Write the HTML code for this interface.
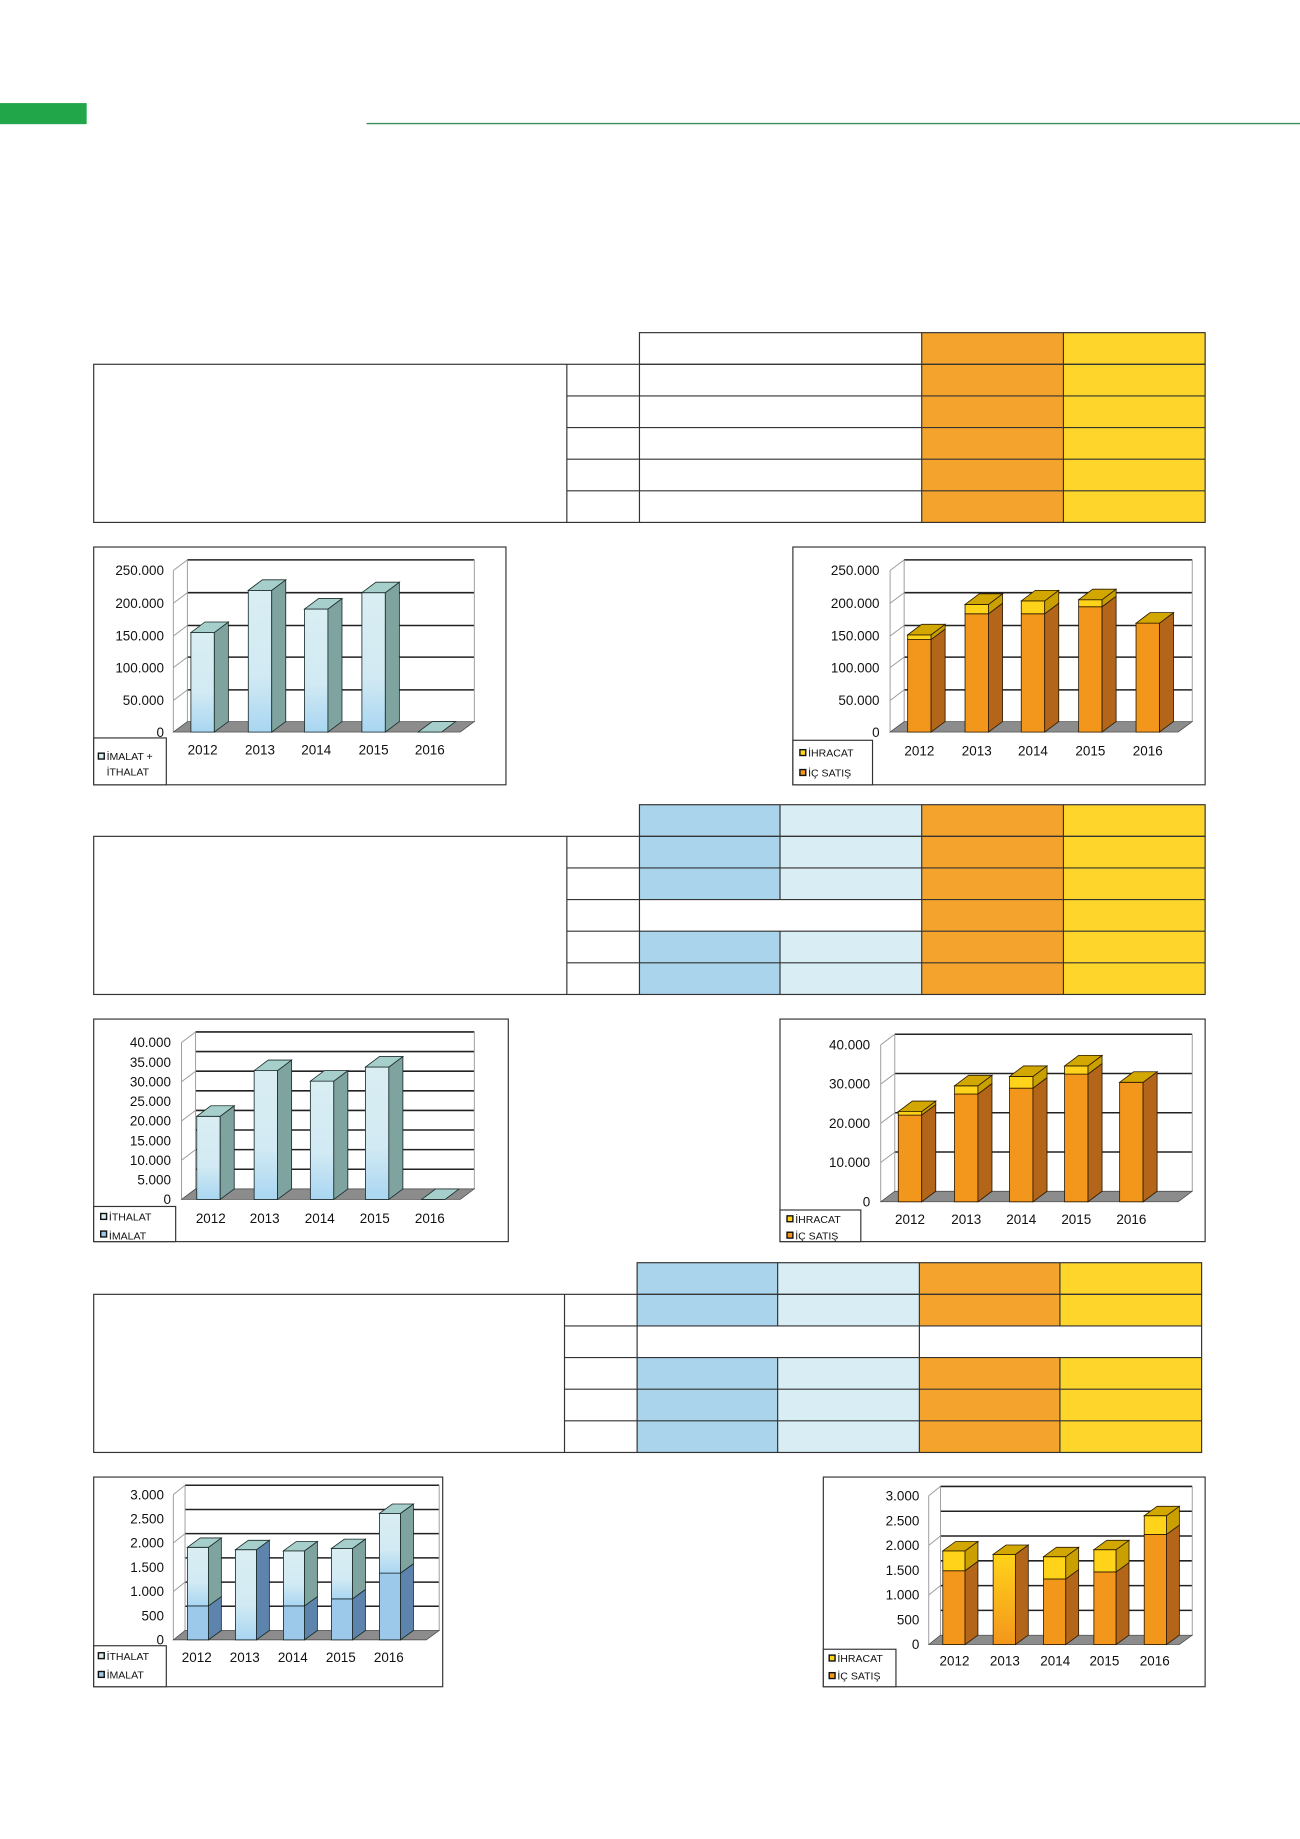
<!DOCTYPE html>
<html><head><meta charset="utf-8"><style>
html,body{margin:0;padding:0;background:#fff;width:1300px;height:1839px;overflow:hidden}
svg{display:block}
text{font-family:"Liberation Sans",Arial,sans-serif;fill:#111}
.ax{font-size:11.5px;text-anchor:end}
.yr{font-size:11.5px;text-anchor:middle}
.lg{font-size:9px}
.ln{stroke:#333;stroke-width:1;fill:none}
.gr{stroke:#222;stroke-width:1.3;fill:none}
.th{stroke:#999;stroke-width:.8;fill:none}
.fl{fill:#8c8c8c;stroke:#444;stroke-width:.6}
.o{fill:#f3961c;stroke:#2a1a00;stroke-width:.7}
.os{fill:#b3651a;stroke:#2a1a00;stroke-width:.7}
.y{fill:#ffd319;stroke:#2a1a00;stroke-width:.7}
.ys{fill:#c9a000;stroke:#2a1a00;stroke-width:.7}
.yt{fill:#d2a700;stroke:#2a1a00;stroke-width:.7}
.l{fill:url(#lg);stroke:#1a2a2a;stroke-width:.7}
.ls{fill:#7fa39f;stroke:#1a2a2a;stroke-width:.7}
.lt{fill:#a6cfcb;stroke:#1a2a2a;stroke-width:.7}
.b{fill:#9cc8ea;stroke:#1a2a2a;stroke-width:.7}
.bs{fill:#5d84ad;stroke:#1a2a2a;stroke-width:.7}
.box{fill:#fff;stroke:#333;stroke-width:1}
</style></head><body>
<svg width="1300" height="1839" viewBox="0 0 1110 1570" preserveAspectRatio="none" xmlns="http://www.w3.org/2000/svg">
<defs>
<linearGradient id="lg" x1="0" y1="0" x2="0" y2="1"><stop offset="0" stop-color="#d9eef3"/><stop offset=".6" stop-color="#d2eaf3"/><stop offset="1" stop-color="#a9d6f2"/></linearGradient>
<linearGradient id="yo" x1="0" y1="0" x2="0" y2="1"><stop offset="0" stop-color="#ffd319"/><stop offset="1" stop-color="#f3961c"/></linearGradient>
</defs>
<rect x="0" y="88" width="74" height="18" fill="#21a64a"/>
<line x1="313" y1="105.5" x2="1110" y2="105.5" stroke="#3a8f5a" stroke-width="1.2"/>

<!-- TABLE 1 -->
<rect x="787" y="284" width="121" height="162" fill="#f4a42c"/>
<rect x="908" y="284" width="121" height="162" fill="#fed52a"/>
<rect x="546" y="284" width="483" height="27" class="ln"/>
<line x1="787" y1="284" x2="787" y2="446" class="ln"/><line x1="908" y1="284" x2="908" y2="446" class="ln"/>
<rect x="80" y="311" width="949" height="135" class="ln"/>
<line x1="484" y1="311" x2="484" y2="446" class="ln"/><line x1="546" y1="311" x2="546" y2="446" class="ln"/>
<path class="ln" d="M484 338H1029M484 365H1029M484 392H1029M484 419H1029"/>

<!-- TABLE 2 -->
<rect x="546" y="687" width="120" height="162" fill="#aad3ec"/>
<rect x="666" y="687" width="121" height="162" fill="#d8edf4"/>
<rect x="546" y="768" width="241" height="27" fill="#fff"/>
<rect x="787" y="687" width="121" height="162" fill="#f4a42c"/>
<rect x="908" y="687" width="121" height="162" fill="#fed52a"/>
<rect x="546" y="687" width="483" height="27" class="ln"/>
<path class="ln" d="M666 687V768M666 795V849M787 687V849M908 687V849"/>
<rect x="80" y="714" width="949" height="135" class="ln"/>
<path class="ln" d="M484 714V849M546 714V849M484 741H1029M484 768H1029M484 795H1029M484 822H1029"/>

<!-- TABLE 3 -->
<rect x="544" y="1078" width="120" height="162" fill="#aad3ec"/>
<rect x="664" y="1078" width="121" height="162" fill="#d8edf4"/>
<rect x="785" y="1078" width="120" height="162" fill="#f4a42c"/>
<rect x="905" y="1078" width="121" height="162" fill="#fed52a"/>
<rect x="544" y="1132" width="482" height="27" fill="#fff"/>
<rect x="544" y="1078" width="482" height="27" class="ln"/>
<path class="ln" d="M664 1078V1132M664 1159V1240M785 1078V1240M905 1078V1132M905 1159V1240"/>
<rect x="80" y="1105" width="946" height="135" class="ln"/>
<path class="ln" d="M482 1105V1240M544 1105V1240M482 1132H1026M482 1159H1026M482 1186H1026M482 1213H1026"/>

<!-- CHART 1 LEFT -->
<rect x="80" y="467" width="352" height="203" class="box"/>
<path class="gr" d="M160 478H405M160 506H405M160 534H405M160 561H405M160 589H405"/>
<path class="th" d="M148 487V625M160 478V616M405 478V616M148 487L160 478M148 515L160 506M148 543L160 534M148 570L160 561M148 598L160 589"/>
<polygon class="fl" points="148,625 393,625 405,616 160,616"/>
<rect class="l" x="163" y="540" width="20" height="85"/><polygon class="ls" points="183,540 195,531 195,616 183,625"/><polygon class="lt" points="163,540 175,531 195,531 183,540"/>
<rect class="l" x="212" y="504" width="20" height="121"/><polygon class="ls" points="232,504 244,495 244,616 232,625"/><polygon class="lt" points="212,504 224,495 244,495 232,504"/>
<rect class="l" x="260" y="520" width="20" height="105"/><polygon class="ls" points="280,520 292,511 292,616 280,625"/><polygon class="lt" points="260,520 272,511 292,511 280,520"/>
<rect class="l" x="309" y="506" width="20" height="119"/><polygon class="ls" points="329,506 341,497 341,616 329,625"/><polygon class="lt" points="309,506 321,497 341,497 329,506"/>
<polygon class="lt" points="357,625 369,616 389,616 377,625"/>
<text class="ax" x="140" y="491">250.000</text><text class="ax" x="140" y="519">200.000</text><text class="ax" x="140" y="547">150.000</text><text class="ax" x="140" y="574">100.000</text><text class="ax" x="140" y="602">50.000</text><text class="ax" x="140" y="629">0</text>
<text class="yr" x="173" y="644">2012</text><text class="yr" x="222" y="644">2013</text><text class="yr" x="270" y="644">2014</text><text class="yr" x="319" y="644">2015</text><text class="yr" x="367" y="644">2016</text>
<rect x="80" y="630" width="62" height="40" class="box"/>
<rect x="84" y="643" width="5" height="5" fill="#d9eef3" stroke="#111" stroke-width="1.2"/>
<text class="lg" x="91" y="649">İMALAT +</text><text class="lg" x="91" y="662">İTHALAT</text>

<!-- CHART 1 RIGHT -->
<rect x="677" y="467" width="352" height="203" class="box"/>
<path class="gr" d="M772 478H1018M772 506H1018M772 534H1018M772 561H1018M772 589H1018"/>
<path class="th" d="M760 487V625M772 478V616M1018 478V616M760 487L772 478M760 515L772 506M760 543L772 534M760 570L772 561M760 598L772 589"/>
<polygon class="fl" points="760,625 1006,625 1018,616 772,616"/>
<rect class="o" x="775" y="546" width="20" height="79"/><polygon class="os" points="795,546 807,537 807,616 795,625"/><rect class="y" x="775" y="542" width="20" height="4"/><polygon class="ys" points="795,542 807,533 807,537 795,546"/><polygon class="yt" points="775,542 787,533 807,533 795,542"/>
<rect class="o" x="824" y="524" width="20" height="101"/><polygon class="os" points="844,524 856,515 856,616 844,625"/><rect class="y" x="824" y="516" width="20" height="8"/><polygon class="ys" points="844,516 856,507 856,515 844,524"/><polygon class="yt" points="824,516 836,507 856,507 844,516"/>
<rect class="o" x="872" y="524" width="20" height="101"/><polygon class="os" points="892,524 904,515 904,616 892,625"/><rect class="y" x="872" y="513" width="20" height="11"/><polygon class="ys" points="892,513 904,504 904,515 892,524"/><polygon class="yt" points="872,513 884,504 904,504 892,513"/>
<rect class="o" x="921" y="518" width="20" height="107"/><polygon class="os" points="941,518 953,509 953,616 941,625"/><rect class="y" x="921" y="512" width="20" height="6"/><polygon class="ys" points="941,512 953,503 953,509 941,518"/><polygon class="yt" points="921,512 933,503 953,503 941,512"/>
<rect class="o" x="970" y="532" width="20" height="93"/><polygon class="os" points="990,532 1002,523 1002,616 990,625"/><polygon class="yt" points="970,532 982,523 1002,523 990,532"/>
<text class="ax" x="751" y="491">250.000</text><text class="ax" x="751" y="519">200.000</text><text class="ax" x="751" y="547">150.000</text><text class="ax" x="751" y="574">100.000</text><text class="ax" x="751" y="602">50.000</text><text class="ax" x="751" y="629">0</text>
<text class="yr" x="785" y="645">2012</text><text class="yr" x="834" y="645">2013</text><text class="yr" x="882" y="645">2014</text><text class="yr" x="931" y="645">2015</text><text class="yr" x="980" y="645">2016</text>
<rect x="677" y="632" width="68" height="38" class="box"/>
<rect x="683" y="640" width="5" height="5" fill="#ffd319" stroke="#111" stroke-width="1.2"/><text class="lg" x="690" y="646">İHRACAT</text>
<rect x="683" y="657" width="5" height="5" fill="#f3961c" stroke="#111" stroke-width="1.2"/><text class="lg" x="690" y="663">İÇ SATIŞ</text>

<!-- CHART 2 LEFT -->
<rect x="80" y="870" width="354" height="190" class="box"/>
<path class="gr" d="M167 881H405M167 897.75H405M167 914.5H405M167 931.25H405M167 948H405M167 964.75H405M167 981.5H405M167 998.25H405"/>
<path class="th" d="M155 890V1024M167 881V1015M405 881V1015M155 890L167 881M155 923.5L167 914.5M155 957L167 948M155 990.5L167 981.5"/>
<polygon class="fl" points="155,1024 393,1024 405,1015 167,1015"/>
<rect class="l" x="168" y="953" width="20" height="71"/><polygon class="ls" points="188,953 200,944 200,1015 188,1024"/><polygon class="lt" points="168,953 180,944 200,944 188,953"/>
<rect class="l" x="217" y="914" width="20" height="110"/><polygon class="ls" points="237,914 249,905 249,1015 237,1024"/><polygon class="lt" points="217,914 229,905 249,905 237,914"/>
<rect class="l" x="265" y="923" width="20" height="101"/><polygon class="ls" points="285,923 297,914 297,1015 285,1024"/><polygon class="lt" points="265,923 277,914 297,914 285,923"/>
<rect class="l" x="312" y="911" width="20" height="113"/><polygon class="ls" points="332,911 344,902 344,1015 332,1024"/><polygon class="lt" points="312,911 324,902 344,902 332,911"/>
<polygon class="lt" points="360,1024 372,1015 392,1015 380,1024"/>
<text class="ax" x="146" y="894">40.000</text><text class="ax" x="146" y="910.75">35.000</text><text class="ax" x="146" y="927.5">30.000</text><text class="ax" x="146" y="944.25">25.000</text><text class="ax" x="146" y="961">20.000</text><text class="ax" x="146" y="977.75">15.000</text><text class="ax" x="146" y="994.5">10.000</text><text class="ax" x="146" y="1011.25">5.000</text><text class="ax" x="146" y="1028">0</text>
<text class="yr" x="180" y="1044">2012</text><text class="yr" x="226" y="1044">2013</text><text class="yr" x="273" y="1044">2014</text><text class="yr" x="320" y="1044">2015</text><text class="yr" x="367" y="1044">2016</text>
<rect x="80" y="1030" width="70" height="30" class="box"/>
<rect x="86" y="1036" width="5" height="5" fill="#d9eef3" stroke="#111" stroke-width="1.2"/><text class="lg" x="93" y="1042">İTHALAT</text>
<rect x="86" y="1051" width="5" height="5" fill="#9cc8ea" stroke="#111" stroke-width="1.2"/><text class="lg" x="93" y="1058">İMALAT</text>

<!-- CHART 2 RIGHT -->
<rect x="666" y="870" width="363" height="190" class="box"/>
<path class="gr" d="M764 883H1018M764 916.5H1018M764 950H1018M764 983.5H1018"/>
<path class="th" d="M752 892V1026M764 883V1017M1018 883V1017M752 892L764 883M752 925.5L764 916.5M752 959L764 950M752 992.5L764 983.5"/>
<polygon class="fl" points="752,1026 1006,1026 1018,1017 764,1017"/>
<rect class="o" x="767" y="952" width="20" height="74"/><polygon class="os" points="787,952 799,943 799,1017 787,1026"/><rect class="y" x="767" y="949" width="20" height="3"/><polygon class="ys" points="787,949 799,940 799,943 787,952"/><polygon class="yt" points="767,949 779,940 799,940 787,949"/>
<rect class="o" x="815" y="934" width="20" height="92"/><polygon class="os" points="835,934 847,925 847,1017 835,1026"/><rect class="y" x="815" y="927" width="20" height="7"/><polygon class="ys" points="835,927 847,918 847,925 835,934"/><polygon class="yt" points="815,927 827,918 847,918 835,927"/>
<rect class="o" x="862" y="929" width="20" height="97"/><polygon class="os" points="882,929 894,920 894,1017 882,1026"/><rect class="y" x="862" y="919" width="20" height="10"/><polygon class="ys" points="882,919 894,910 894,920 882,929"/><polygon class="yt" points="862,919 874,910 894,910 882,919"/>
<rect class="o" x="909" y="917" width="20" height="109"/><polygon class="os" points="929,917 941,908 941,1017 929,1026"/><rect class="y" x="909" y="910" width="20" height="7"/><polygon class="ys" points="929,910 941,901 941,908 929,917"/><polygon class="yt" points="909,910 921,901 941,901 929,910"/>
<rect class="o" x="956" y="924" width="20" height="102"/><polygon class="os" points="976,924 988,915 988,1017 976,1026"/><polygon class="yt" points="956,924 968,915 988,915 976,924"/>
<text class="ax" x="743" y="896">40.000</text><text class="ax" x="743" y="929.5">30.000</text><text class="ax" x="743" y="963">20.000</text><text class="ax" x="743" y="996.5">10.000</text><text class="ax" x="743" y="1030">0</text>
<text class="yr" x="777" y="1045">2012</text><text class="yr" x="825" y="1045">2013</text><text class="yr" x="872" y="1045">2014</text><text class="yr" x="919" y="1045">2015</text><text class="yr" x="966" y="1045">2016</text>
<rect x="666" y="1033" width="69" height="27" class="box"/>
<rect x="672" y="1038" width="5" height="5" fill="#ffd319" stroke="#111" stroke-width="1.2"/><text class="lg" x="679" y="1044">İHRACAT</text>
<rect x="672" y="1052" width="5" height="5" fill="#f3961c" stroke="#111" stroke-width="1.2"/><text class="lg" x="679" y="1058">İÇ SATIŞ</text>

<!-- CHART 3 LEFT -->
<rect x="80" y="1261" width="298" height="179" class="box"/>
<path class="gr" d="M158 1268H375M158 1288.7H375M158 1309.3H375M158 1330H375M158 1350.7H375M158 1371.3H375"/>
<path class="th" d="M148 1276V1400M158 1268V1392M375 1268V1392M148 1276L158 1268M148 1317.3L158 1309.3M148 1358.7L158 1350.7"/>
<polygon class="fl" points="148,1400 364,1400 375,1392 158,1392"/>
<rect class="b" x="160" y="1371" width="18" height="29"/><polygon class="bs" points="178,1371 189,1363 189,1392 178,1400"/><rect class="l" x="160" y="1321" width="18" height="50"/><polygon class="ls" points="178,1321 189,1313 189,1363 178,1371"/><polygon class="lt" points="160,1321 171,1313 189,1313 178,1321"/>
<rect class="l" x="201" y="1323" width="18" height="77"/><polygon class="bs" points="219,1323 230,1315 230,1392 219,1400"/><polygon class="lt" points="201,1323 212,1315 230,1315 219,1323"/>
<rect class="b" x="242" y="1371" width="18" height="29"/><polygon class="bs" points="260,1371 271,1363 271,1392 260,1400"/><rect class="l" x="242" y="1324" width="18" height="47"/><polygon class="ls" points="260,1324 271,1316 271,1363 260,1371"/><polygon class="lt" points="242,1324 253,1316 271,1316 260,1324"/>
<rect class="b" x="283" y="1365" width="18" height="35"/><polygon class="bs" points="301,1365 312,1357 312,1392 301,1400"/><rect class="l" x="283" y="1322" width="18" height="43"/><polygon class="ls" points="301,1322 312,1314 312,1357 301,1365"/><polygon class="lt" points="283,1322 294,1314 312,1314 301,1322"/>
<rect class="b" x="324" y="1343" width="18" height="57"/><polygon class="bs" points="342,1343 353,1335 353,1392 342,1400"/><rect class="l" x="324" y="1292" width="18" height="51"/><polygon class="ls" points="342,1292 353,1284 353,1335 342,1343"/><polygon class="lt" points="324,1292 335,1284 353,1284 342,1292"/>
<text class="ax" x="140" y="1280">3.000</text><text class="ax" x="140" y="1300.7">2.500</text><text class="ax" x="140" y="1321.3">2.000</text><text class="ax" x="140" y="1342">1.500</text><text class="ax" x="140" y="1362.7">1.000</text><text class="ax" x="140" y="1383.3">500</text><text class="ax" x="140" y="1404">0</text>
<text class="yr" x="168" y="1419">2012</text><text class="yr" x="209" y="1419">2013</text><text class="yr" x="250" y="1419">2014</text><text class="yr" x="291" y="1419">2015</text><text class="yr" x="332" y="1419">2016</text>
<rect x="80" y="1405" width="62" height="35" class="box"/>
<rect x="84" y="1411" width="5" height="5" fill="#d9eef3" stroke="#111" stroke-width="1.2"/><text class="lg" x="91" y="1417">İTHALAT</text>
<rect x="84" y="1427" width="5" height="5" fill="#9cc8ea" stroke="#111" stroke-width="1.2"/><text class="lg" x="91" y="1433">İMALAT</text>

<!-- CHART 3 RIGHT -->
<rect x="703" y="1261" width="326" height="179" class="box"/>
<path class="gr" d="M803 1269H1018M803 1290.2H1018M803 1311.3H1018M803 1332.5H1018M803 1353.7H1018M803 1374.8H1018"/>
<path class="th" d="M793 1277V1404M803 1269V1396M1018 1269V1396M793 1277L803 1269M793 1319.3L803 1311.3M793 1361.7L803 1353.7"/>
<polygon class="fl" points="793,1404 1007,1404 1018,1396 803,1396"/>
<rect class="o" x="805" y="1341" width="19" height="63"/><polygon class="os" points="824,1341 835,1333 835,1396 824,1404"/><rect class="y" x="805" y="1324" width="19" height="17"/><polygon class="ys" points="824,1324 835,1316 835,1333 824,1341"/><polygon class="yt" points="805,1324 816,1316 835,1316 824,1324"/>
<rect x="848" y="1327" width="19" height="77" fill="url(#yo)" stroke="#2a1a00" stroke-width=".7"/><polygon class="os" points="867,1327 878,1319 878,1396 867,1404"/><polygon class="yt" points="848,1327 859,1319 878,1319 867,1327"/>
<rect class="o" x="891" y="1348" width="19" height="56"/><polygon class="os" points="910,1348 921,1340 921,1396 910,1404"/><rect class="y" x="891" y="1329" width="19" height="19"/><polygon class="ys" points="910,1329 921,1321 921,1340 910,1348"/><polygon class="yt" points="891,1329 902,1321 921,1321 910,1329"/>
<rect class="o" x="934" y="1342" width="19" height="62"/><polygon class="os" points="953,1342 964,1334 964,1396 953,1404"/><rect class="y" x="934" y="1323" width="19" height="19"/><polygon class="ys" points="953,1323 964,1315 964,1334 953,1342"/><polygon class="yt" points="934,1323 945,1315 964,1315 953,1323"/>
<rect class="o" x="977" y="1310" width="19" height="94"/><polygon class="os" points="996,1310 1007,1302 1007,1396 996,1404"/><rect class="y" x="977" y="1294" width="19" height="16"/><polygon class="ys" points="996,1294 1007,1286 1007,1302 996,1310"/><polygon class="yt" points="977,1294 988,1286 1007,1286 996,1294"/>
<text class="ax" x="785" y="1281">3.000</text><text class="ax" x="785" y="1302.2">2.500</text><text class="ax" x="785" y="1323.3">2.000</text><text class="ax" x="785" y="1344.5">1.500</text><text class="ax" x="785" y="1365.7">1.000</text><text class="ax" x="785" y="1386.8">500</text><text class="ax" x="785" y="1408">0</text>
<text class="yr" x="815" y="1422">2012</text><text class="yr" x="858" y="1422">2013</text><text class="yr" x="901" y="1422">2014</text><text class="yr" x="943" y="1422">2015</text><text class="yr" x="986" y="1422">2016</text>
<rect x="703" y="1408" width="62" height="32" class="box"/>
<rect x="708" y="1413" width="5" height="5" fill="#ffd319" stroke="#111" stroke-width="1.2"/><text class="lg" x="715" y="1419">İHRACAT</text>
<rect x="708" y="1428" width="5" height="5" fill="#f3961c" stroke="#111" stroke-width="1.2"/><text class="lg" x="715" y="1434">İÇ SATIŞ</text>
</svg>
</body></html>
